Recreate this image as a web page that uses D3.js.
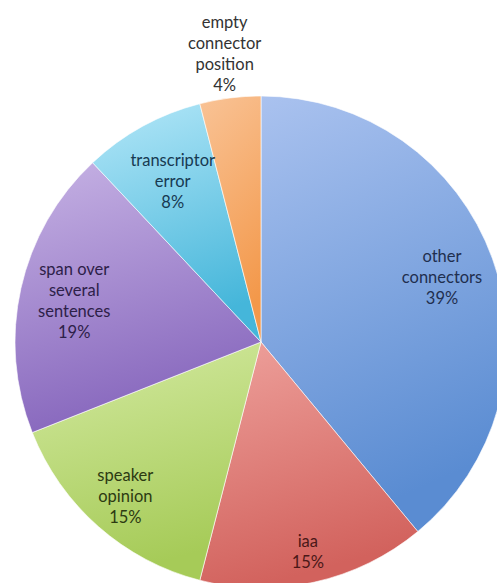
<!DOCTYPE html>
<html>
<head>
<meta charset="utf-8">
<script src="https://cdn.jsdelivr.net/npm/d3@7"></script>
<style>
  body { margin: 0; background: #fff; }
  svg { display: block; }
  text { font-family: Lato, "Open Sans", sans-serif; }
</style>
</head>
<body>
<div id="container"></div>
<script>
/* CONSTANTS AND GLOBALS */
const width = 497,
  height = 583,
  cx = 261,
  cy = 342,
  radius = 246,
  lineHeight = 21;

/* DATA */
const categories = [
  "other connectors",
  "iaa",
  "speaker opinion",
  "span over several sentences",
  "transcriptor error",
  "empty connector position"
];
// label text broken into lines as in the picture
const labelLines = [
  ["other", "connectors"],
  ["iaa"],
  ["speaker", "opinion"],
  ["span over", "several", "sentences"],
  ["transcriptor", "error"],
  ["empty", "connector", "position"]
];
const values = [39, 15, 15, 19, 8, 4];

// light (top) and dark (bottom) of each slice gradient
const lightColors = ["#aac2ef", "#eea19c", "#d4eaa2", "#c6b2e4", "#b4e7f8", "#f9c396"];
const darkColors = ["#5a8cd2", "#d2625d", "#a6cb58", "#8767bd", "#45b6da", "#f3984a"];
const textColors = ["#1f2f4f", "#4a1818", "#2c3a12", "#2d2048", "#173a52", "#333333"];

// how far out (share of radius) each label sits, like the spreadsheet's "best fit"
const labelRing = [0.782, 0.873, 0.834, 0.778, 0.745, 1.18];

const data = categories.map((c, i) => ({
  name: c,
  lines: labelLines[i],
  value: values[i],
  i: i
}));

/* SVG */
const svg = d3.select("#container")
  .append("svg")
  .attr("width", width)
  .attr("height", height);

const defs = svg.append("defs");
data.forEach(d => {
  const g = defs.append("linearGradient")
    .attr("id", "grad" + d.i)
    .attr("x1", 0).attr("y1", 0)
    .attr("x2", 0.25).attr("y2", 1);
  g.append("stop").attr("offset", "0%").attr("stop-color", lightColors[d.i]);
  g.append("stop").attr("offset", "100%").attr("stop-color", darkColors[d.i]);
});

const pie = d3.pie()
  .sort(null)
  .value(d => d.value);

const arc = d3.arc()
  .innerRadius(0)
  .outerRadius(radius);

const arcs = pie(data);

const g = svg.append("g")
  .attr("transform", `translate(${cx},${cy})`);

g.selectAll("path")
  .data(arcs)
  .join("path")
  .attr("d", arc)
  .attr("fill", d => `url(#grad${d.data.i})`)
  .attr("stroke", "#fff")
  .attr("stroke-width", 0.6);

const labels = g.selectAll("g.label")
  .data(arcs)
  .join("g")
  .attr("class", "label")
  .attr("transform", d => {
    const r = radius * labelRing[d.data.i];
    const p = d3.arc().innerRadius(r).outerRadius(r).centroid(d);
    return `translate(${p[0]},${p[1]})`;
  });

labels.append("text")
  .attr("text-anchor", "middle")
  .attr("fill", d => textColors[d.data.i])
  .attr("font-size", 16.5)
  .each(function(d) {
    const lines = d.data.lines.concat([d.data.value + "%"]);
    const t = d3.select(this);
    const start = -(lines.length - 1) / 2 * lineHeight;
    lines.forEach((l, k) => {
      t.append("tspan")
        .attr("x", 0)
        .attr("y", start + k * lineHeight)
        .attr("dy", "0.35em")
        .text(l);
    });
  });
</script>
</body>
</html>
